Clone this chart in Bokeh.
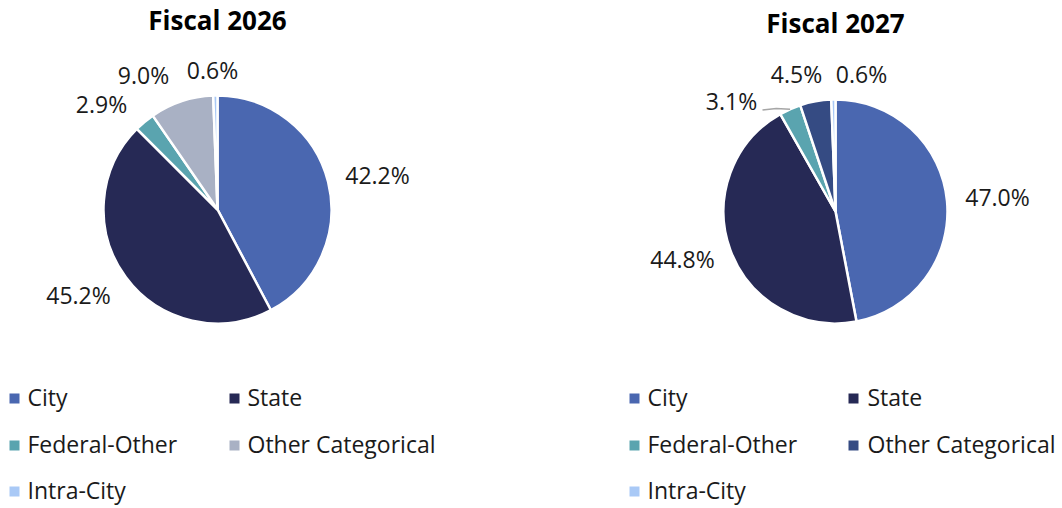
import math
from bokeh.plotting import figure
from bokeh.models import Range1d, ColumnDataSource
from bokeh.embed import file_html
from bokeh.resources import INLINE

# ---------------- data ----------------
categories = ["City", "State", "Federal-Other", "Other Categorical", "Intra-City"]
fy2026 = [42.2, 45.2, 2.9, 9.0, 0.6]
fy2027 = [47.0, 44.8, 3.1, 4.5, 0.6]
titles = ["Fiscal 2026", "Fiscal 2027"]
colors_2026 = ["#4A67B0", "#262955", "#5AA4AF", "#A9B1C4", "#A9C9F6"]
colors_2027 = ["#4A67B0", "#262955", "#5AA4AF", "#354B83", "#A9C9F6"]

# ---------------- layout (pixel space, y measured from top of image) ----------------
W, H = 1062, 506
FONT = "Open Sans"
TXT_DY = -2  # small vertical correction for text rendering


def Y(img_y):
    return H - img_y


pies = [
    dict(vals=fy2026, cols=colors_2026, title=titles[0], cx=217, cy=209, r=114,
         title_xy=(217, 21.5),
         label_xy=[(377, 176), (78, 296.5), (101, 105), (143, 76.5), (212, 71)],
         leader=None,
         legend_x=(14, 234), text_x=(27, 247)),
    dict(vals=fy2027, cols=colors_2027, title=titles[1], cx=835, cy=211, r=112,
         title_xy=(835, 24.5),
         label_xy=[(997, 198), (682, 260.5), (731, 102.5), (796, 75), (861, 75)],
         leader=2,
         legend_x=(634, 853), text_x=(647, 867)),
]
legend_rows_y = [398, 445, 491]

p = figure(width=W, height=H, output_backend="svg", toolbar_location=None,
           x_range=Range1d(0, W), y_range=Range1d(0, H), min_border=0)
p.axis.visible = False
p.grid.visible = False
p.outline_line_color = None
p.background_fill_color = "white"
p.border_fill_color = "white"

for pie in pies:
    vals = pie["vals"]
    total = sum(vals)
    cum = [0.0]
    for v in vals:
        cum.append(cum[-1] + v / total)
    starts = [math.pi / 2 - 2 * math.pi * c for c in cum[:-1]]
    ends = [math.pi / 2 - 2 * math.pi * c for c in cum[1:]]
    src = ColumnDataSource(dict(start=starts, end=ends, color=pie["cols"]))
    p.wedge(x=pie["cx"], y=Y(pie["cy"]), radius=pie["r"], start_angle="start",
            end_angle="end", direction="clock", fill_color="color",
            line_color="white", line_width=2.5, source=src)

    # title
    tx, ty = pie["title_xy"]
    p.text(x=[tx], y=[Y(ty + TXT_DY)], text=[pie["title"]], text_font={"value": FONT},
           text_font_style="bold", text_font_size="26px", text_align="center",
           text_baseline="middle", text_color="#000000")

    # data labels
    labels = [f"{v:.1f}%" for v in vals]
    lx = [xy[0] for xy in pie["label_xy"]]
    ly = [Y(xy[1] + TXT_DY) for xy in pie["label_xy"]]
    p.text(x=lx, y=ly, text=labels, text_font={"value": FONT},
           text_font_size="23px", text_align="center",
           text_baseline="middle", text_color="#1a1a1a")

    # leader line
    if pie["leader"] is not None:
        i = pie["leader"]
        mid = (cum[i] + cum[i + 1]) / 2
        ang = 2 * math.pi * mid
        ex = pie["cx"] + pie["r"] * math.sin(ang)
        ey = pie["cy"] - pie["r"] * math.cos(ang)
        sx = pie["label_xy"][i][0] + 31
        sy = pie["label_xy"][i][1] + 7
        p.line(x=[sx, (sx + ex) / 2, ex], y=[Y(sy), Y(sy - 1.5), Y(ey)],
               line_color="#A6A6A6", line_width=1.5)

    # legend
    for k, name in enumerate(categories):
        row, col = k // 2, k % 2
        p.scatter(x=[pie["legend_x"][col]], y=[Y(legend_rows_y[row])],
                  marker="square", size=10, fill_color=pie["cols"][k],
                  line_color=None)
        p.text(x=[pie["text_x"][col]], y=[Y(legend_rows_y[row] + TXT_DY)], text=[name],
               text_font={"value": FONT}, text_font_size="23px",
               text_align="left", text_baseline="middle",
               text_color="#1a1a1a")

open("out.html", "w").write(file_html(p, INLINE))
